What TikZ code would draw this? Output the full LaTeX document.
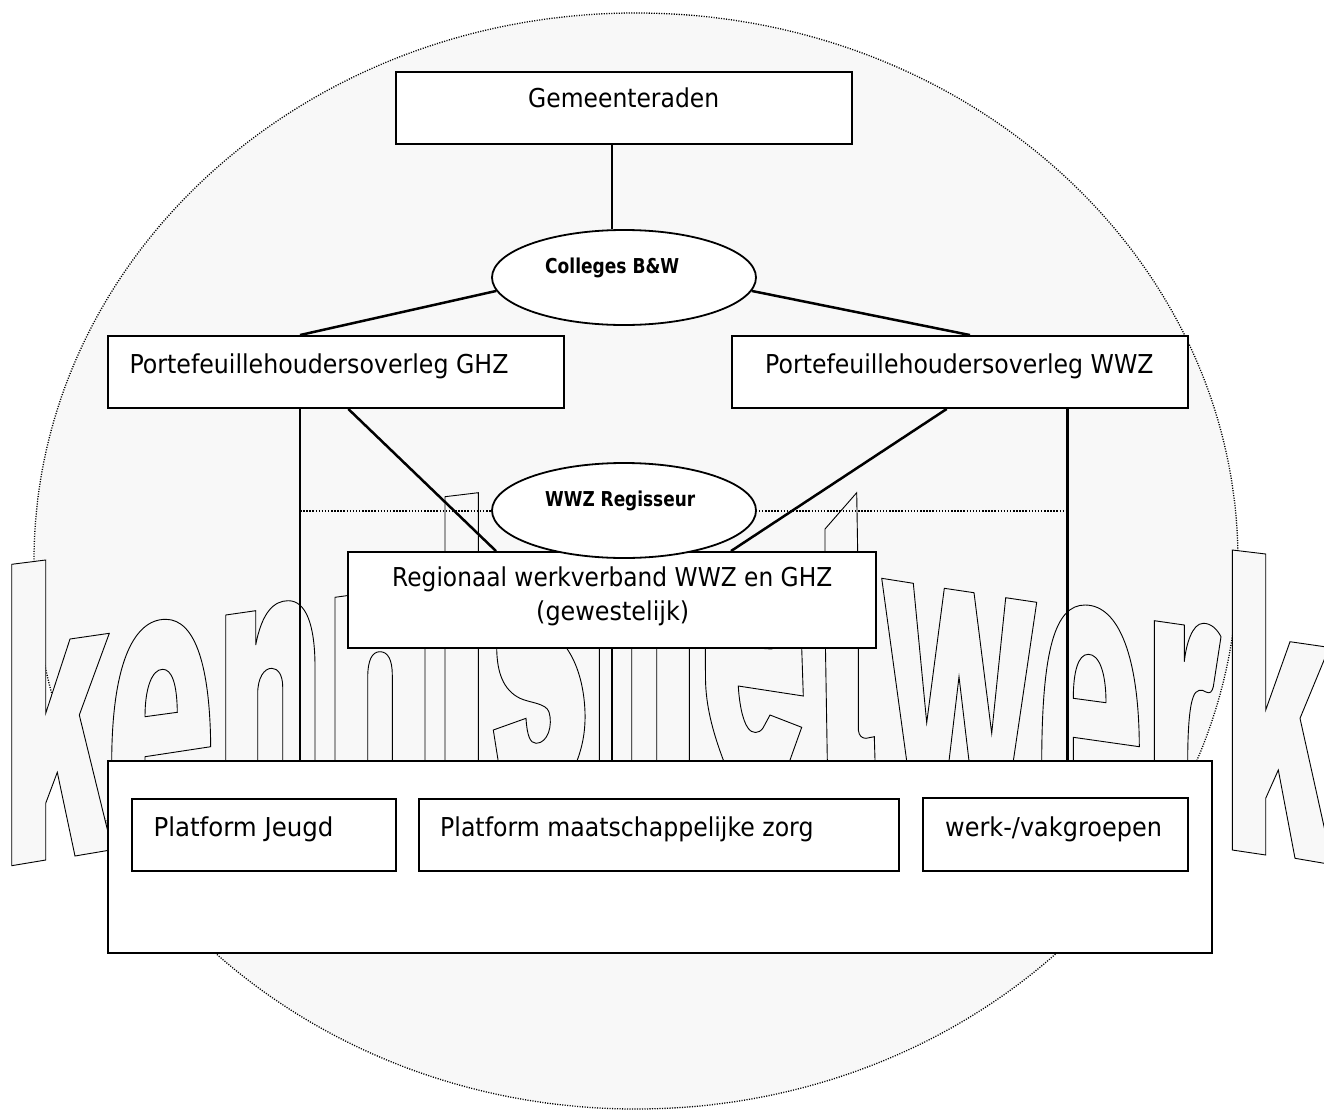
\documentclass[tikz,border=0pt]{standalone}
\usepackage{fontspec}
\setmainfont{DejaVu Sans}
\usetikzlibrary{shapes.geometric}
\definecolor{bgc}{RGB}{248,248,248}
\pgfdeclarelayer{circlelayer}
\pgfdeclarelayer{letterlayer}
\pgfdeclarelayer{linelayer}
\pgfsetlayers{circlelayer,letterlayer,linelayer,main}
\newcommand\fitw[2]{\resizebox{#1}{\height}{#2}}
\tikzset{
  box/.style={draw, fill=white, line width=1.9pt, rectangle, inner sep=0pt},
  oval/.style={draw, fill=white, ellipse, line width=1.8pt, inner sep=0pt},
  lbl/.style={anchor=base west, inner sep=0pt, font=\fontsize{26}{30}\selectfont},
  blbl/.style={anchor=base west, inner sep=0pt, font=\bfseries\fontsize{20.5}{24}\selectfont},
  conn/.style={line width=2.5pt},
  letter/.style={fill=bgc, draw=black, line width=0.9pt, even odd rule, line join=miter},
}
\begin{document}
\begin{tikzpicture}[x=1pt,y=-1pt]
\useasboundingbox (0,0) rectangle (1324,1113);

% background circle
\begin{pgfonlayer}{circlelayer}
\fill[bgc] (636,561) ellipse [x radius=602pt, y radius=548pt];
\draw[line width=1.3pt, dash pattern=on 1.1pt off 1.4pt] (636,561) ellipse [x radius=602pt, y radius=548pt];
\end{pgfonlayer}

% word art letters "kennisnetwerk"
\begin{pgfonlayer}{letterlayer}
% k
\draw[letter] (11.7,564.3) -- (45.7,560) -- (45.7,713.3) -- (70,639) -- (109.3,633.3) -- (79.3,715) -- (112.3,849.7) -- (75,856) -- (57.3,772.3) -- (45.7,803.3) -- (45.7,860) -- (11.7,865.7) -- cycle;
% e
\draw[letter] (145,756.7) -- (210.7,746.7) .. controls (210,668) and (196,619.3) .. (165.7,619.3) .. controls (132,619.3) and (112,668) .. (111.7,761) -- (111.7,830) -- (145,830) -- cycle
  (145,716.7) -- (177.3,712.3) .. controls (177,684) and (172,669.3) .. (162.7,669.3) .. controls (152,669.3) and (145,688) .. (145,716.7) -- cycle;
% n
\draw[letter] (225.7,615) -- (255.7,610.7) -- (255.7,645) .. controls (262,612) and (274,600.7) .. (288.3,600.7) .. controls (306,600.7) and (315,625) .. (315,666.7) -- (315,820) -- (282.7,820) -- (282.7,686.7) .. controls (282.7,675) and (278,668.3) .. (271.7,668.3) .. controls (264,668.3) and (257.7,678) .. (257.7,693.3) -- (257.7,820) -- (225.7,820) -- cycle;
% n
\draw[letter] (335,597.3) -- (366,593) -- (366,625) .. controls (375,600) and (390,590) .. (400,590) .. controls (418,590) and (425,615) .. (425,650) -- (425,820) -- (392.3,820) -- (392.3,675) .. controls (392.3,660) and (388,651.7) .. (380,651.7) .. controls (372,651.7) and (367.7,660) .. (367.7,678) -- (367.7,820) -- (335,820) -- cycle;
% i
\draw[letter] (445,496.7) -- (478.3,492.7) -- (478.3,565) -- (445,565) -- cycle;
\draw[letter] (445,600) -- (478.3,598) -- (478.3,820) -- (445,820) -- cycle;
% s
\draw[letter] (496.7,648.3) .. controls (497,672) and (503,690) .. (520,698.3) .. controls (530,703) and (546,703) .. (549,712) .. controls (553,725) and (548,743.3) .. (536,743.3) .. controls (530,743.3) and (527,735) .. (526,718.3) -- (493.3,730) -- (498.3,761.7) -- (502,840) .. controls (510,860) and (570,865) .. (576,840) -- (576.7,761.7) .. controls (583,745) and (585.5,730) .. (585,712) .. controls (584,685) and (577,663) .. (566.7,648.3) -- (545,630) -- (528,622) -- (527,600) -- (552,598) -- (553,610) -- (586,600) -- (582,578) .. controls (570,565) and (510,565) .. (498,585) -- cycle;
% n
\draw[letter] (599.3,585) -- (631.7,582) -- (631.7,605) .. controls (640,585) and (650,580) .. (660,580) .. controls (680,580) and (689.3,600) .. (689.3,630) -- (689.3,820) -- (656.7,820) -- (656.7,630) .. controls (656.7,620) and (650,615) .. (644,615) .. controls (638,615) and (631.7,622) .. (631.7,632) -- (631.7,820) -- (599.3,820) -- cycle;
% e
\draw[letter] (705,600) .. controls (708,575) and (730,570) .. (752,570) .. controls (785,570) and (801,590) .. (801.7,648) -- (803.3,696) -- (738.3,686) .. controls (739,700) and (742,720) .. (748,728) .. controls (752,734) and (759,734) .. (763,728) -- (770,715) -- (801.7,727.3) -- (790,760) -- (785,820) -- (725,820) -- (723.3,760) .. controls (712,730) and (706,705) .. (705.5,680) -- cycle
  (738.3,647) .. controls (738,610) and (745,598) .. (756,598) .. controls (768,598) and (772,612) .. (772,649) -- cycle;
% t
\draw[letter] (825,529) -- (856.7,492.7) -- (858.3,590) -- (872,590) -- (872,620) -- (858.3,620) -- (858.3,730) .. controls (859,736) and (862,738.3) .. (866,738.3) -- (874.3,736.7) -- (875,760) -- (875,820) -- (827.3,820) -- (827.3,760) -- (825,620) -- (808,620) -- (808,590) -- (825,590) -- cycle;
% w
\draw[letter] (881.7,578.3) -- (913.3,583.3) -- (926.7,722.7) -- (944.3,588.3) -- (974,592.7) -- (991.7,733.3) -- (1005.7,597.7) -- (1036.7,602.3) -- (1013.3,761) -- (1010,820) -- (972,820) -- (969,761) -- (959,676.7) -- (949,761) -- (946,820) -- (909,820) -- (906.7,761) -- cycle;
% e
\draw[letter] (1073.3,737.3) -- (1139.3,746.7) .. controls (1139,660) and (1120,605) .. (1085,605) .. controls (1055,605) and (1042,650) .. (1041.7,761) -- (1041.7,830) -- (1073.3,830) -- cycle
  (1073.3,698.3) -- (1106,702.7) .. controls (1106,672) and (1099,654.3) .. (1088.3,654.3) .. controls (1078,654.3) and (1073.3,672) .. (1073.3,698.3) -- cycle;
% r
\draw[letter] (1154.3,620.7) -- (1184.3,625) -- (1184.3,661.7) .. controls (1186,645) and (1192,623.3) .. (1203.3,623.3) .. controls (1211,623.3) and (1217,629) .. (1221,636.7) -- (1213.3,686.7) .. controls (1212,692) and (1210,694) .. (1206,692) .. controls (1202,689) and (1196,689) .. (1193.3,696.7) .. controls (1190,705) and (1187.7,725) .. (1187.7,761) -- (1187.7,830) -- (1154.3,830) -- cycle;
% k
\draw[letter] (1232.3,550) -- (1265.7,554) -- (1265.7,710) -- (1290,641.7) -- (1329.3,647.4) -- (1300,718.3) -- (1332.5,864.7) -- (1295,858.3) -- (1278.3,770) -- (1265.7,798.3) -- (1265.7,855) -- (1232.3,850) -- cycle;
\end{pgfonlayer}

% boxes and ovals
\node[box, minimum width=456pt, minimum height=72pt] (gem) at (624,108) {};
\node[oval, minimum width=264pt, minimum height=95pt] (colleges) at (624,277.5) {};
\node[box, minimum width=456pt, minimum height=72pt] (ghz) at (336,372) {};
\node[box, minimum width=456.6pt, minimum height=72pt] (wwz) at (960,372) {};
\node[box, minimum width=528pt, minimum height=96pt] (regionaal) at (612,600) {};
\node[oval, minimum width=264pt, minimum height=95pt] (regisseur) at (624,510.5) {};
\node[box, minimum width=1104pt, minimum height=192pt] (plat) at (660,857) {};
\node[box, minimum width=264pt, minimum height=72pt] (jeugd) at (264,835) {};
\node[box, minimum width=480pt, minimum height=72pt] (maatsch) at (659,835) {};
\node[box, minimum width=265pt, minimum height=73pt] (werk) at (1055.5,834.5) {};

% texts
\node[lbl] (tgem) at (528,108) {\fitw{191pt}{Gemeenteraden}};
\node[blbl] (tcol) at (545,273.3) {\fitw{134pt}{Colleges B\&W}};
\node[lbl] (tghz) at (129.3,373.3) {\fitw{379pt}{Portefeuillehoudersoverleg GHZ}};
\node[lbl] (twwz) at (765,373.3) {\fitw{388.3pt}{Portefeuillehoudersoverleg WWZ}};
\node[blbl] (treg) at (545,506) {\fitw{150pt}{WWZ Regisseur}};
\node[lbl] (tri1) at (392,586) {\fitw{440pt}{Regionaal werkverband WWZ en GHZ}};
\node[lbl] (tri2) at (536,620) {\fitw{153pt}{(gewestelijk)}};
\node[lbl] (tjeu) at (153.3,836) {\fitw{180pt}{Platform Jeugd}};
\node[lbl] (tmaa) at (440,836) {\fitw{373.3pt}{Platform maatschappelijke zorg}};
\node[lbl] (twer) at (945,836) {\fitw{216.7pt}{werk-/vakgroepen}};

% helper coordinates for connector positions
\coordinate (cA) at (612,0);
\coordinate (c300) at (300,0);
\coordinate (c348) at (348.3,0);
\coordinate (c496) at (496,0);
\coordinate (c947) at (946.7,0);
\coordinate (c731) at (731,0);
\coordinate (c970) at (970,0);
\coordinate (c1068) at (1067.7,0);
\coordinate (d1) at (300,511);
\coordinate (d2) at (1067.7,511);

\begin{pgfonlayer}{linelayer}
\draw[line width=1.5pt, dash pattern=on 1.5pt off 1.6pt] (d1) -- (d2);
\draw[conn] (gem.south -| cA) -- (colleges.north -| cA);
\draw[conn] (colleges.186) -- (ghz.north -| c300);
\draw[conn] (colleges.354) -- (wwz.north -| c970);
\draw[conn] (ghz.south -| c300) -- (plat.north -| c300);
\draw[conn] (wwz.south -| c1068) -- (plat.north -| c1068);
\draw[conn] (ghz.south -| c348) -- (regionaal.north -| c496);
\draw[conn] (wwz.south -| c947) -- (regionaal.north -| c731);
\draw[conn] (regionaal.south -| cA) -- (plat.north -| cA);
\end{pgfonlayer}
\end{tikzpicture}
\end{document}
